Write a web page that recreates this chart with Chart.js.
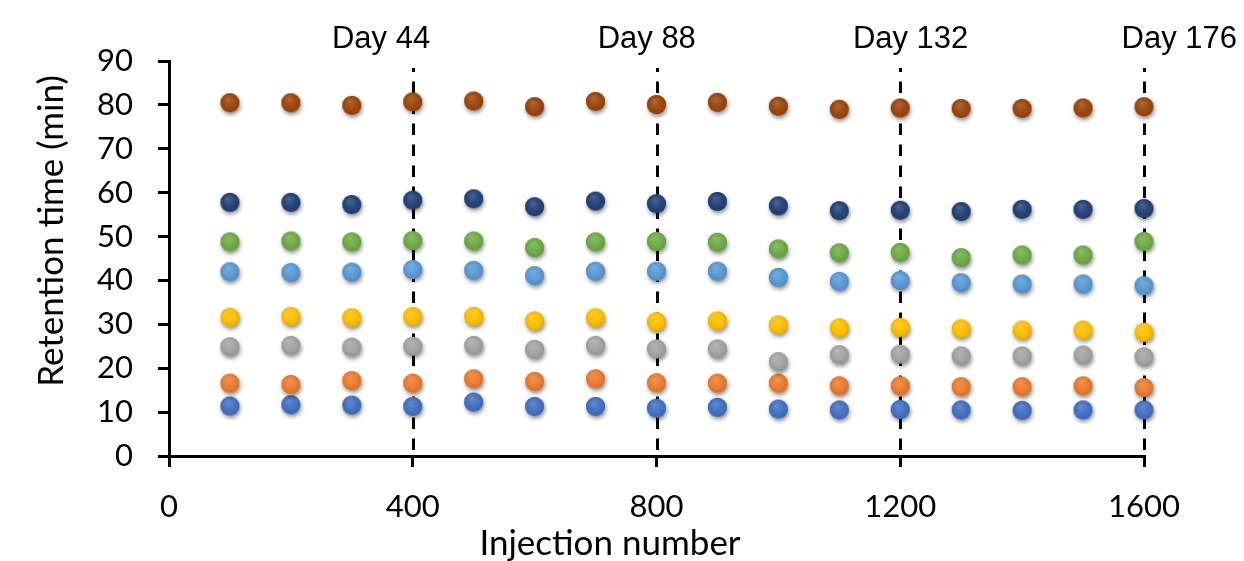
<!DOCTYPE html>
<html>
<head>
<meta charset="utf-8">
<script src="https://cdn.jsdelivr.net/npm/chart.js@4.4.1/dist/chart.umd.min.js"></script>
<style>
  html, body { margin: 0; padding: 0; background: #ffffff; }
  canvas { display: block; }
</style>
</head>
<body>
<canvas id="chart" width="1244" height="561"></canvas>
<script>
// Injection numbers at which retention times were recorded
const injections = [100, 200, 300, 400, 500, 600, 700, 800, 900, 1000, 1100, 1200, 1300, 1400, 1500, 1600];

// Retention times (min) for each peak
const peak1 = [11.4, 11.7, 11.6, 11.3, 12.3, 11.3, 11.3, 10.9, 11.1, 10.7, 10.5, 10.6, 10.5, 10.4, 10.5, 10.5];
const peak2 = [16.6, 16.3, 17.2, 16.6, 17.6, 17.0, 17.6, 16.7, 16.6, 16.6, 16.0, 16.0, 15.8, 15.8, 16.0, 15.6];
const peak3 = [24.9, 25.2, 24.8, 25.0, 25.2, 24.3, 25.2, 24.4, 24.4, 21.5, 23.1, 23.2, 22.8, 22.8, 23.0, 22.6];
const peak4 = [31.6, 31.8, 31.5, 31.8, 31.8, 30.8, 31.5, 30.6, 30.8, 29.9, 29.2, 29.3, 29.0, 28.7, 28.7, 28.2];
const peak5 = [42.0, 41.8, 41.9, 42.5, 42.3, 41.1, 42.1, 42.1, 42.1, 40.7, 39.8, 40.0, 39.5, 39.2, 39.2, 38.8];
const peak6 = [48.8, 49.0, 48.8, 49.1, 49.0, 47.5, 48.8, 48.9, 48.7, 47.2, 46.3, 46.4, 45.2, 45.8, 45.8, 48.9];
const peak7 = [57.8, 57.8, 57.3, 58.3, 58.6, 56.8, 58.1, 57.5, 58.0, 57.0, 55.9, 56.0, 55.7, 56.2, 56.2, 56.4];
const peak8 = [80.5, 80.5, 79.9, 80.7, 80.9, 79.6, 80.8, 80.1, 80.6, 79.7, 79.0, 79.3, 79.2, 79.2, 79.3, 79.6];

const peakNames = ['Peak 1', 'Peak 2', 'Peak 3', 'Peak 4', 'Peak 5', 'Peak 6', 'Peak 7', 'Peak 8'];
const peakColors = ['#4472C4', '#ED7D31', '#A5A5A5', '#FFC000', '#5B9BD5', '#70AD47', '#264478', '#9E480E'];

// Axis ticks
const xTicks = [0, 400, 800, 1200, 1600];
const yTicks = [0, 10, 20, 30, 40, 50, 60, 70, 80, 90];

// Day markers along the injection axis
const markerInjections = [400, 800, 1200, 1600];
const markerLabels = ['Day 44', 'Day 88', 'Day 132', 'Day 176'];
const markerLabelAt = [348, 784, 1217, 1658];

const xTitle = 'Injection number';
const yTitle = 'Retention time (min)';

const TITLE_FONT = '35px Lato';
const MARKER_FONT = '31px "Liberation Sans", Arial, sans-serif';

function shade(hex, amt) {
  const n = parseInt(hex.slice(1), 16);
  const r = (n >> 16) & 255, g = (n >> 8) & 255, b = n & 255;
  const f = c => amt >= 0 ? Math.round(c + (255 - c) * amt) : Math.round(c * (1 + amt));
  return `rgb(${f(r)},${f(g)},${f(b)})`;
}

// Shaded round marker with a soft drop shadow
function makeDot(color) {
  const size = 31, c = size / 2, r = 9.5;
  const cv = document.createElement('canvas');
  cv.width = size; cv.height = size;
  const ctx = cv.getContext('2d');
  ctx.save();
  ctx.shadowColor = 'rgba(0,0,0,0.45)';
  ctx.shadowBlur = 4;
  ctx.shadowOffsetX = 1;
  ctx.shadowOffsetY = 2.5;
  ctx.beginPath();
  ctx.arc(c, c, r, 0, Math.PI * 2);
  ctx.fillStyle = color;
  ctx.fill();
  ctx.restore();
  const g = ctx.createRadialGradient(c - 2, c - 4, 0, c, c, r + 1);
  g.addColorStop(0, shade(color, 0.18));
  g.addColorStop(0.6, color);
  g.addColorStop(1, shade(color, -0.12));
  ctx.beginPath();
  ctx.arc(c, c, r, 0, Math.PI * 2);
  ctx.fillStyle = g;
  ctx.fill();
  return cv;
}

const series = [peak1, peak2, peak3, peak4, peak5, peak6, peak7, peak8];
const datasets = series.map((vals, i) => ({
  label: peakNames[i],
  data: injections.map((x, j) => ({ x: x, y: vals[j] })),
  pointStyle: makeDot(peakColors[i]),
  backgroundColor: peakColors[i],
  borderColor: peakColors[i],
  clip: false,
  order: series.length - i
}));

const dayMarkers = {
  id: 'dayMarkers',
  beforeDatasetsDraw(chart) {
    const { ctx, chartArea, scales } = chart;
    ctx.save();
    ctx.strokeStyle = '#000000';
    ctx.lineWidth = 3;
    ctx.setLineDash([11.5, 9.5]);
    ctx.lineDashOffset = 7.5;
    markerInjections.forEach(v => {
      const px = Math.round(scales.x.getPixelForValue(v)) + 0.5;
      ctx.beginPath();
      ctx.moveTo(px, chartArea.top + 7);
      ctx.lineTo(px, chartArea.bottom);
      ctx.stroke();
    });
    ctx.restore();
  },
  afterDraw(chart) {
    const { ctx, chartArea, scales } = chart;
    ctx.save();
    ctx.fillStyle = '#000000';
    ctx.font = MARKER_FONT;
    ctx.textAlign = 'center';
    ctx.textBaseline = 'alphabetic';
    markerLabels.forEach((t, i) => {
      ctx.fillText(t, scales.x.getPixelForValue(markerLabelAt[i]), chartArea.top - 13);
    });
    ctx.restore();
  }
};

const axisTitles = {
  id: 'axisTitles',
  afterDraw(chart) {
    const { ctx, chartArea } = chart;
    ctx.save();
    ctx.fillStyle = '#000000';
    ctx.font = TITLE_FONT;
    ctx.textAlign = 'center';
    ctx.textBaseline = 'alphabetic';
    ctx.fillText(xTitle, 610, chartArea.bottom + 99);
    ctx.translate(63, 231);
    ctx.rotate(-Math.PI / 2);
    ctx.fillText(yTitle, 0, 0);
    ctx.restore();
  }
};

Chart.defaults.color = '#000000';

new Chart(document.getElementById('chart'), {
  type: 'scatter',
  data: { datasets },
  options: {
    responsive: false,
    animation: false,
    devicePixelRatio: 1,
    events: [],
    layout: { padding: { left: 0, right: 100, top: 61, bottom: 0 } },
    plugins: { legend: { display: false }, tooltip: { enabled: false } },
    elements: { point: { radius: 10, hoverRadius: 10 } },
    scales: {
      x: {
        type: 'linear',
        min: 0, max: 1600,
        afterBuildTicks: s => { s.ticks = xTicks.map(v => ({ value: v })); },
        afterFit: s => { s.height = 105; },
        border: { display: true, color: '#000000', width: 3 },
        grid: { display: true, drawOnChartArea: false, drawTicks: true, tickLength: 11, color: '#000000', lineWidth: 3 },
        ticks: { font: { family: 'Lato', size: 31 }, color: '#000000', padding: 21, maxRotation: 0, autoSkip: false, callback: v => String(v) }
      },
      y: {
        type: 'linear',
        min: 0, max: 90,
        afterBuildTicks: s => { s.ticks = yTicks.map(v => ({ value: v })); },
        afterFit: s => { s.width = 169; },
        border: { display: true, color: '#000000', width: 3 },
        grid: { display: true, drawOnChartArea: false, drawTicks: true, tickLength: 11, color: '#000000', lineWidth: 3 },
        ticks: { font: { family: 'Lato', size: 31 }, color: '#000000', padding: 25, autoSkip: false, callback: v => String(v) }
      }
    }
  },
  plugins: [dayMarkers, axisTitles]
});
</script>
</body>
</html>
